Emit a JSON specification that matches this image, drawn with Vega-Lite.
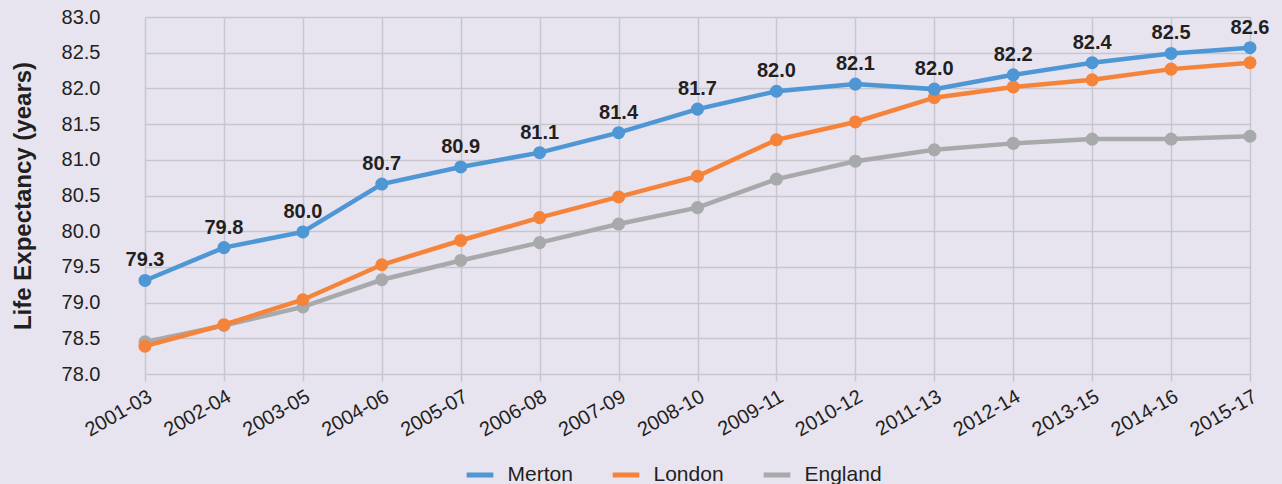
{
  "$schema": "https://vega.github.io/schema/vega-lite/v6.json",
  "width": 1177,
  "height": 357,
  "autosize": {"type": "none"},
  "padding": {"left": 105, "top": 17, "right": 0, "bottom": 110},
  "background": "#e7e4f0",
  "config": {
    "view": {"stroke": null},
    "font": "Liberation Sans",
    "axis": {"gridColor": "#c8c6cc", "gridWidth": 1.5, "labelColor": "#231f20", "titleColor": "#231f20", "domain": false, "labelFontSize": 20, "labelFont": "Liberation Sans"}
  },
  "data": {
    "values": [
      {"period": "2001-03", "area": "England", "value": 78.45},
      {"period": "2002-04", "area": "England", "value": 78.68},
      {"period": "2003-05", "area": "England", "value": 78.94},
      {"period": "2004-06", "area": "England", "value": 79.32},
      {"period": "2005-07", "area": "England", "value": 79.59},
      {"period": "2006-08", "area": "England", "value": 79.84},
      {"period": "2007-09", "area": "England", "value": 80.1},
      {"period": "2008-10", "area": "England", "value": 80.33},
      {"period": "2009-11", "area": "England", "value": 80.73},
      {"period": "2010-12", "area": "England", "value": 80.98},
      {"period": "2011-13", "area": "England", "value": 81.14},
      {"period": "2012-14", "area": "England", "value": 81.23},
      {"period": "2013-15", "area": "England", "value": 81.29},
      {"period": "2014-16", "area": "England", "value": 81.29},
      {"period": "2015-17", "area": "England", "value": 81.33},
      {"period": "2001-03", "area": "London", "value": 78.39},
      {"period": "2002-04", "area": "London", "value": 78.69},
      {"period": "2003-05", "area": "London", "value": 79.04},
      {"period": "2004-06", "area": "London", "value": 79.53},
      {"period": "2005-07", "area": "London", "value": 79.87},
      {"period": "2006-08", "area": "London", "value": 80.19},
      {"period": "2007-09", "area": "London", "value": 80.48},
      {"period": "2008-10", "area": "London", "value": 80.77},
      {"period": "2009-11", "area": "London", "value": 81.28},
      {"period": "2010-12", "area": "London", "value": 81.53},
      {"period": "2011-13", "area": "London", "value": 81.87},
      {"period": "2012-14", "area": "London", "value": 82.02},
      {"period": "2013-15", "area": "London", "value": 82.12},
      {"period": "2014-16", "area": "London", "value": 82.27},
      {"period": "2015-17", "area": "London", "value": 82.36},
      {"period": "2001-03", "area": "Merton", "value": 79.31},
      {"period": "2002-04", "area": "Merton", "value": 79.77},
      {"period": "2003-05", "area": "Merton", "value": 79.99},
      {"period": "2004-06", "area": "Merton", "value": 80.66},
      {"period": "2005-07", "area": "Merton", "value": 80.9},
      {"period": "2006-08", "area": "Merton", "value": 81.1},
      {"period": "2007-09", "area": "Merton", "value": 81.38},
      {"period": "2008-10", "area": "Merton", "value": 81.71},
      {"period": "2009-11", "area": "Merton", "value": 81.96},
      {"period": "2010-12", "area": "Merton", "value": 82.06},
      {"period": "2011-13", "area": "Merton", "value": 81.99},
      {"period": "2012-14", "area": "Merton", "value": 82.19},
      {"period": "2013-15", "area": "Merton", "value": 82.36},
      {"period": "2014-16", "area": "Merton", "value": 82.49},
      {"period": "2015-17", "area": "Merton", "value": 82.57}
    ]
  },
  "encoding": {
    "x": {
      "field": "period", "type": "ordinal", "sort": null,
      "scale": {"type": "point", "range": [40, 1145], "padding": 0},
      "axis": {"title": null, "labelAngle": -30, "labelAlign": "right", "labelBaseline": "top", "ticks": true, "tickColor": "#c8c6cc", "tickSize": 7, "tickWidth": 1.5, "labelPadding": 5, "grid": true}
    },
    "y": {
      "field": "value", "type": "quantitative",
      "scale": {"domain": [78, 83], "nice": false, "zero": false},
      "axis": {"title": "Life Expectancy (years)", "titleFontSize": 24, "titleFontWeight": "bold", "titleFont": "Liberation Sans", "titlePadding": 26, "values": [78, 78.5, 79, 79.5, 80, 80.5, 81, 81.5, 82, 82.5, 83], "format": ".1f", "ticks": false, "labelPadding": 5}
    }
  },
  "layer": [
    {
      "mark": {"type": "line", "strokeWidth": 4.5},
      "encoding": {
        "color": {
          "field": "area", "type": "nominal",
          "scale": {"domain": ["Merton", "London", "England"], "range": ["#4f97d4", "#f5843a", "#a8a9ab"]},
          "legend": {"title": null, "orient": "none", "direction": "horizontal", "legendX": 359, "legendY": 442, "gridAlign": "none", "symbolType": "stroke", "symbolSize": 713, "symbolStrokeWidth": 5, "labelFontSize": 21, "labelFont": "Liberation Sans", "labelColor": "#231f20", "labelOffset": 11.5, "columnPadding": 29, "padding": 0}
        }
      }
    },
    {
      "mark": {"type": "point", "filled": true, "size": 170, "opacity": 1},
      "encoding": {
        "color": {"field": "area", "type": "nominal", "legend": null}
      }
    },
    {
      "transform": [{"filter": "datum.area === 'Merton'"}],
      "mark": {"type": "text", "fontWeight": "bold", "fontSize": 20, "dy": -20, "color": "#231f20", "font": "Liberation Sans"},
      "encoding": {"text": {"field": "value", "type": "quantitative", "format": ".1f"}}
    }
  ]
}
